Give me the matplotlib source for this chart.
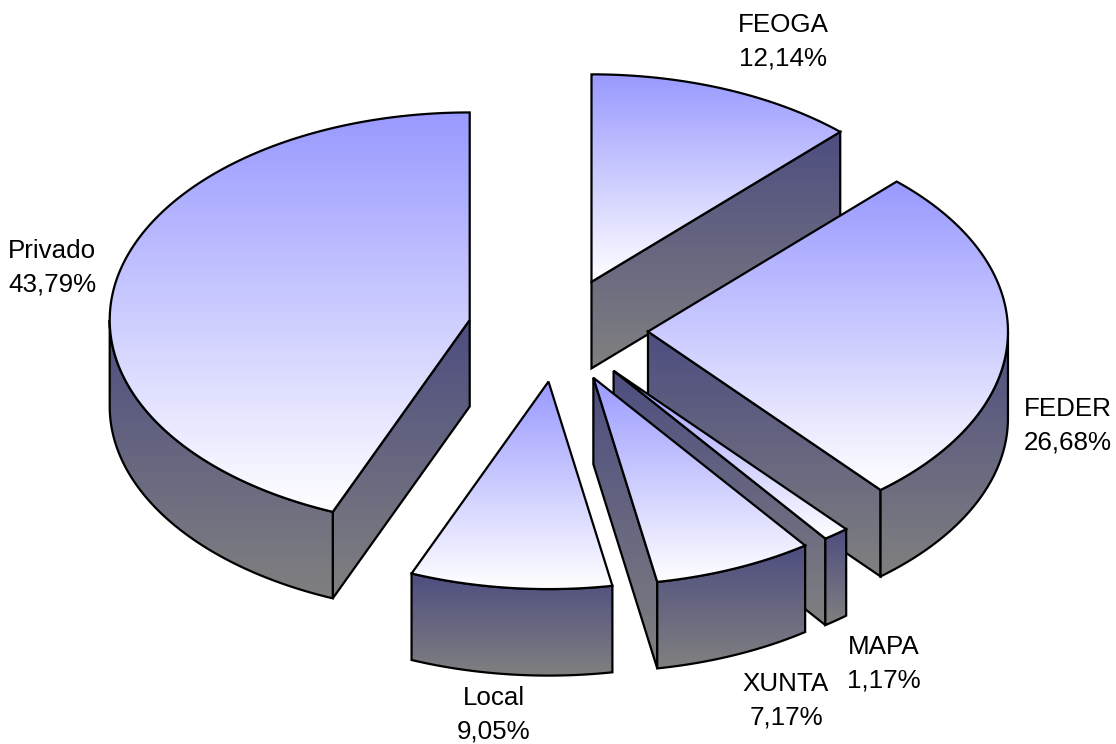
import numpy as np
import matplotlib
matplotlib.use('Agg')
import matplotlib.pyplot as plt
from matplotlib.colors import LinearSegmentedColormap
from matplotlib.patches import Polygon

plt.rcParams['font.family'] = ['Liberation Sans', 'DejaVu Sans']

# Slices, clockwise from 12 o'clock
labels = ['FEOGA', 'FEDER', 'MAPA', 'XUNTA', 'Local', 'Privado']
shares = [12.14, 26.68, 1.17, 7.17, 9.05, 43.79]
value_text = ['12,14%', '26,68%', '1,17%', '7,17%', '9,05%', '43,79%']

# Label centres in pixels
label_x = [783, 1068, 884, 786, 494, 52]
label_y = [42, 426, 664, 701, 715, 268]

# Pie geometry in pixels
cx, cy = 558, 330
rx, ry = 360, 207.5
depth = 86.5
explode = 0.25

top_cmap = LinearSegmentedColormap.from_list('top', ['#9999FF', '#FFFFFF'])
side_cmap = LinearSegmentedColormap.from_list('side', ['#4D4D80', '#808080'])

fig = plt.figure(figsize=(11.16, 7.44), dpi=100)
ax = fig.add_axes([0, 0, 1, 1])
ax.axis('off')


def point(t, ox, oy, r=1.0):
    return ox + r * rx * np.sin(t), oy - r * ry * np.cos(t)


def face(pts, cmap, z):
    # polygon filled with a vertical gradient across its own height
    pts = np.array(pts)
    x0, x1 = pts[:, 0].min(), pts[:, 0].max()
    y0, y1 = pts[:, 1].min(), pts[:, 1].max()
    grad = np.linspace(0, 1, 256).reshape(-1, 1)
    im = ax.imshow(grad, cmap=cmap, extent=[x0, x1, y1, y0], aspect='auto',
                   interpolation='bilinear', zorder=z, vmin=0, vmax=1)
    poly = Polygon(pts, closed=True, fc='none', ec='black', lw=1.6,
                   joinstyle='miter', zorder=z + 0.5)
    ax.add_patch(poly)
    im.set_clip_path(poly)


edges = np.cumsum([0] + shares) / sum(shares) * 2 * np.pi
order = [0, 1, 5, 4, 2, 3]

for z, i in enumerate(order):
    t0, t1 = edges[i], edges[i + 1]
    mid = (t0 + t1) / 2
    ox, oy = point(mid, cx, cy, explode)
    base = z * 3 + 1

    # cut walls that face the viewer
    if t1 < np.pi:
        ex, ey = point(t1, ox, oy)
        face([(ox, oy), (ex, ey), (ex, ey + depth), (ox, oy + depth)], side_cmap, base)
    if t0 > np.pi:
        ex, ey = point(t0, ox, oy)
        face([(ox, oy), (ex, ey), (ex, ey + depth), (ox, oy + depth)], side_cmap, base)

    # outer rim, only the front half shows
    a, b = max(t0, np.pi / 2), min(t1, 3 * np.pi / 2)
    if b > a:
        ts = np.linspace(a, b, 120)
        upper = [point(t, ox, oy) for t in ts]
        lower = [(x, y + depth) for x, y in upper[::-1]]
        face(upper + lower, side_cmap, base + 1)

    # top face
    ts = np.linspace(t0, t1, 200)
    face([(ox, oy)] + [point(t, ox, oy) for t in ts], top_cmap, base + 2)

for name, val, x, y in zip(labels, value_text, label_x, label_y):
    ax.text(x, y, name + '\n' + val, ha='center', va='center', fontsize=18.7,
            linespacing=1.5, color='black', zorder=50)

ax.set_xlim(0, 1116)
ax.set_ylim(744, 0)
fig.savefig('out.png', dpi=100, facecolor='white')
